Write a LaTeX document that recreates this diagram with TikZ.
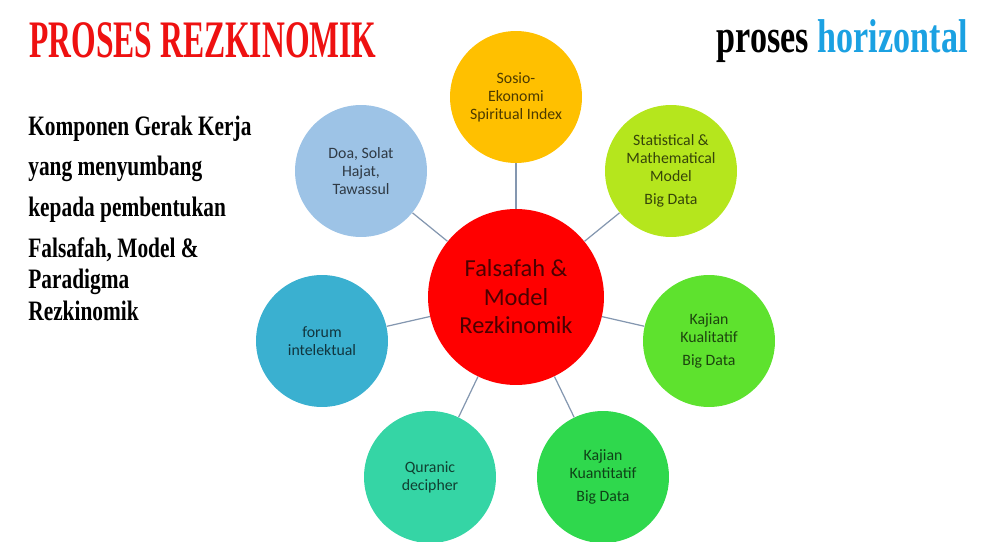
\documentclass[tikz,border=0pt]{standalone}
\usepackage{fontspec}
\setmainfont{Carlito}
\newfontfamily\titlefont[FakeStretch=0.6]{Liberation Serif}
\newfontfamily\tagfont[FakeStretch=0.72]{Liberation Serif}
\newfontfamily\sidefont[FakeStretch=0.76]{Liberation Serif}
\definecolor{ctitle}{HTML}{EE1111}
\definecolor{choriz}{HTML}{1BA1E2}
\definecolor{clink}{HTML}{8497B0}
\definecolor{cpusat}{HTML}{FF0000}
\definecolor{csosio}{HTML}{FFC000}
\definecolor{cdoa}{HTML}{9DC3E6}
\definecolor{cstat}{HTML}{B5E61D}
\definecolor{cforum}{HTML}{3AB0D0}
\definecolor{ckual}{HTML}{5EE22E}
\definecolor{cquran}{HTML}{35D5A5}
\definecolor{ckuant}{HTML}{2FD84D}
\tikzset{
  bubble/.style={circle, fill=#1, text=#1!30!black, minimum size=2.64cm, inner sep=0pt, align=center, font=\fontsize{9}{10.3}\selectfont},
  bubble/.default=cdoa,
  link/.style={draw=clink, line width=0.7pt},
  side/.style={anchor=base west, inner sep=0pt, font=\sidefont\bfseries\fontsize{16}{17}\selectfont},
}
\begin{document}
\begin{tikzpicture}[x=0.02cm, y=-0.02cm]
  \useasboundingbox (0,0) rectangle (1000,541);
  % titles
  \node[anchor=base west, inner sep=0pt, text=ctitle, font=\titlefont\bfseries\fontsize{30}{32}\selectfont] (judul) at (29,57) {PROSES REZKINOMIK};
  \node[anchor=base east, inner sep=0pt, font=\tagfont\bfseries\fontsize{27}{29}\selectfont] (tag) at (968,52) {proses \textcolor{choriz}{horizontal}};
  \foreach \t/\yy [count=\k] in {Komponen Gerak Kerja/135, yang menyumbang/175, kepada pembentukan/216, {Falsafah, Model \&}/257, Paradigma/288, Rezkinomik/320}
    \node[side] (teks\k) at (28,\yy) {\t};
  % bubbles
  \node[bubble=cpusat, minimum size=3.52cm, font=\fontsize{13.9}{16.2}\selectfont] (pusat) at (516,297) {Falsafah \&\\Model\\Rezkinomik};
  \node[bubble=csosio] (sosio) at (516,97) {Sosio-\\Ekonomi\\Spiritual Index};
  \node[bubble=cdoa] (doa) at (361,171) {Doa, Solat\\Hajat,\\Tawassul};
  \node[bubble=cstat] (stat) at (671,171) {Statistical \&\\Mathematical\\Model\\[3pt]Big Data};
  \node[bubble=cforum] (forum) at (322,341) {forum\\intelektual};
  \node[bubble=ckual] (kual) at (709,341) {Kajian\\Kualitatif\\[3pt]Big Data};
  \node[bubble=cquran] (quran) at (430,477) {Quranic\\decipher};
  \node[bubble=ckuant] (kuant) at (603,477) {Kajian\\Kuantitatif\\[3pt]Big Data};
  \foreach \o in {sosio, doa, stat, forum, kual, quran, kuant}
    \draw[link] (pusat) -- (\o);
\end{tikzpicture}
\end{document}
